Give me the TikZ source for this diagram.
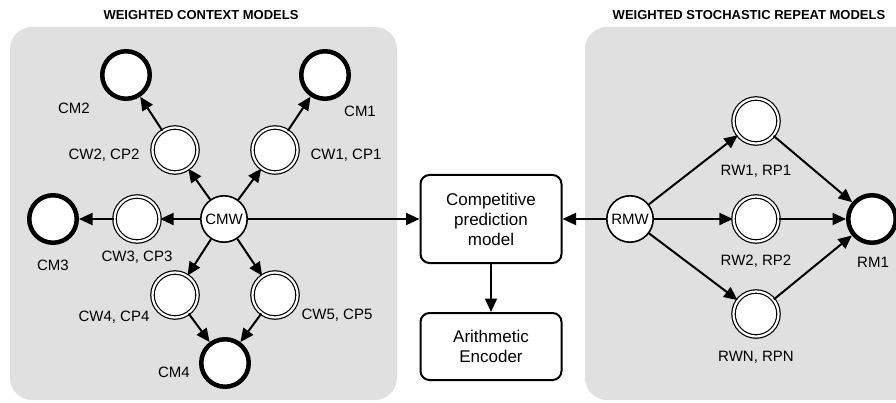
\documentclass[tikz,border=0pt]{standalone}
\usepackage{fontspec}
\setmainfont{Liberation Sans}
\usetikzlibrary{arrows.meta}
\definecolor{panelgray}{RGB}{224,224,224}
\tikzset{
  panel/.style={fill=panelgray,rounded corners=22pt},
  ttl/.style={font=\fontsize{13}{13}\selectfont\bfseries},
  mixer/.style={circle,draw,fill=white,line width=1.6pt,minimum size=46.4pt,inner sep=0pt,font=\fontsize{15}{15}\selectfont},
  model/.style={circle,draw,fill=white,line width=4.5pt,minimum size=47.5pt,inner sep=0pt},
  weight/.style={circle,draw,line width=1.2pt,double=white,double distance=2.2pt,fill=white,minimum size=45pt,inner sep=0pt},
  lbl/.style={font=\fontsize{15}{15}\selectfont,inner sep=0pt},
  block/.style={draw,fill=white,rounded corners=9pt,line width=2pt,minimum width=141pt,align=center,font=\fontsize{17}{20}\selectfont},
  flow/.style={->,line width=2pt},
}
\begin{document}
\begin{tikzpicture}[>={Triangle[length=13.5pt,width=12pt]},x=1pt,y=-1pt]
	\useasboundingbox (0,0) rectangle (896,403);
	% panels
	\fill[panel] (10,27) rectangle (397,400);
	\fill[panel] (585,27) rectangle (930,400);
	\node[ttl] (tleft) at (201,15) {WEIGHTED CONTEXT MODELS};
	\node[ttl] (tright) at (749,15) {WEIGHTED STOCHASTIC REPEAT MODELS};
	% context models
	\node[mixer] (cmw) at (224,219) {CMW};
	\node[model] (cm1) at (325,75) {};
	\node[model] (cm2) at (126,75) {};
	\node[model] (cm3) at (53,219) {};
	\node[model] (cm4) at (225,363) {};
	\node[weight] (cw1) at (275,150) {};
	\node[weight] (cw2) at (175,150) {};
	\node[weight] (cw3) at (137,219) {};
	\node[weight] (cw4) at (175,295) {};
	\node[weight] (cw5) at (275,295) {};
	\node[lbl] (lcm1) at (360,111) {CM1};
	\node[lbl] (lcm2) at (74,108) {CM2};
	\node[lbl] (lcm3) at (53,265) {CM3};
	\node[lbl] (lcm4) at (174,372) {CM4};
	\node[lbl] (lcw1) at (346,155) {CW1, CP1};
	\node[lbl] (lcw2) at (104,155) {CW2, CP2};
	\node[lbl] (lcw3) at (137,257) {CW3, CP3};
	\node[lbl] (lcw4) at (114,317) {CW4, CP4};
	\node[lbl] (lcw5) at (337,315) {CW5, CP5};
	\draw[flow] (cmw) -- (cw1);
	\draw[flow] (cmw) -- (cw2);
	\draw[flow] (cmw) -- (cw3);
	\draw[flow] (cmw) -- (cw4);
	\draw[flow] (cmw) -- (cw5);
	\draw[flow] (cw1) -- (cm1);
	\draw[flow] (cw2) -- (cm2);
	\draw[flow] (cw3) -- (cm3);
	\draw[flow] (cw4) -- (cm4);
	\draw[flow] (cw5) -- (cm4);
	% centre
	\node[block,minimum height=88pt] (cpm) at (491,219) {Competitive\\prediction\\model};
	\node[block,minimum height=67pt] (enc) at (491,346.5) {Arithmetic\\Encoder};
	\draw[flow] (cmw) -- (cpm);
	\draw[flow] (cpm) -- (enc);
	% repeat models
	\node[mixer] (rmw) at (630,219) {RMW};
	\node[weight] (rw1) at (756,121) {};
	\node[weight] (rw2) at (756,219) {};
	\node[weight] (rwn) at (756,314) {};
	\node[model] (rm1) at (872,219) {};
	\node[lbl] (lrw1) at (756,171) {RW1, RP1};
	\node[lbl] (lrw2) at (756,261) {RW2, RP2};
	\node[lbl] (lrwn) at (756,357) {RWN, RPN};
	\node[lbl] (lrm1) at (873,262) {RM1};
	\draw[flow] (rmw) -- (cpm);
	\draw[flow] (rmw) -- (rw1);
	\draw[flow] (rmw) -- (rw2);
	\draw[flow] (rmw) -- (rwn);
	\draw[flow] (rw1) -- (rm1);
	\draw[flow] (rw2) -- (rm1);
	\draw[flow] (rwn) -- (rm1);
\end{tikzpicture}
\end{document}
